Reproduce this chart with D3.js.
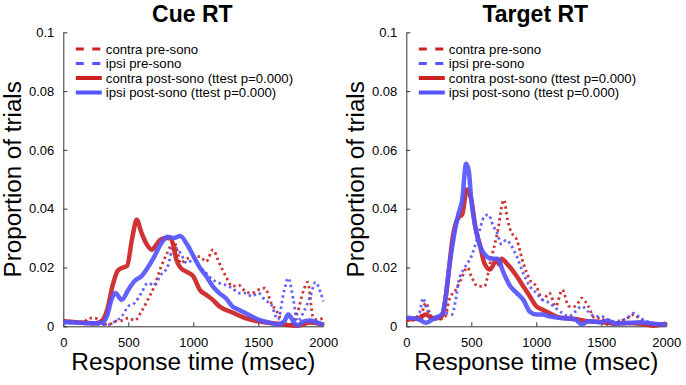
<!DOCTYPE html>
<html>
<head>
<meta charset="utf-8">
<script src="https://cdn.jsdelivr.net/npm/d3@7.9.0/dist/d3.min.js"></script>
<style>
  body { margin: 0; background: #fff; }
  svg { font-family: "Liberation Sans", Arial, Helvetica, sans-serif; }
</style>
</head>
<body>
<div id="chart"></div>
<script>
// Tick values / labels
const xTicks = [0, 500, 1000, 1500, 2000];
const yTicks = [0, 0.02, 0.04, 0.06, 0.08, 0.1];
const titles = ["Cue RT", "Target RT"];
const legendLabels = [
  "contra pre-sono",
  "ipsi pre-sono",
  "contra post-sono (ttest p=0.000)",
  "ipsi post-sono (ttest p=0.000)"
];

// Cue RT series: [msec, proportion]
const cueContraPre = [[0,0.002],[100,0.0015],[150,0.0012],[200,0.0028],[250,0.0027],[300,0.001],[350,0.0006],[400,0.0017],[450,0.002],[500,0.0028],[550,0.002],[600,0.005],[650,0.009],[700,0.0136],[750,0.02],[800,0.025],[850,0.0288],[880,0.025],[900,0.0215],[950,0.023],[1000,0.0237],[1050,0.0237],[1100,0.022],[1150,0.026],[1200,0.0215],[1250,0.017],[1300,0.0136],[1350,0.014],[1400,0.0119],[1450,0.0113],[1500,0.0124],[1550,0.013],[1600,0.0079],[1650,0.0045],[1700,0.0006],[1750,0.0006],[1800,0.0045],[1850,0.0124],[1880,0.015],[1920,0.0034],[1950,0.0023],[2000,0.0028]];
const cueIpsiPre = [[0,0.001],[100,0.0012],[200,0.0008],[300,0.0006],[350,0.0006],[400,0.0017],[450,0.0034],[500,0.0068],[550,0.008],[600,0.0113],[650,0.0147],[700,0.014],[750,0.0175],[800,0.02],[850,0.027],[900,0.025],[950,0.0215],[1000,0.0226],[1050,0.02],[1100,0.018],[1150,0.0158],[1200,0.0147],[1250,0.014],[1300,0.013],[1350,0.0113],[1400,0.0113],[1450,0.0102],[1500,0.0113],[1550,0.009],[1600,0.0073],[1650,0.0023],[1700,0.0124],[1730,0.0164],[1770,0.009],[1800,0.0017],[1850,0.005],[1900,0.0102],[1940,0.015],[1980,0.0113],[2000,0.0085]];
const cueContraPost = [[0,0.0017],[100,0.0014],[200,0.0011],[250,0.001],[300,0.002],[340,0.006],[380,0.014],[420,0.019],[460,0.02],[490,0.0205],[530,0.03],[565,0.0362],[600,0.032],[640,0.028],[680,0.026],[720,0.028],[750,0.0296],[800,0.03],[830,0.0298],[870,0.0226],[900,0.02],[950,0.0185],[1000,0.017],[1050,0.0124],[1100,0.0107],[1150,0.009],[1200,0.0068],[1300,0.0047],[1400,0.0028],[1500,0.0017],[1600,0.0011],[1700,0.0006],[1800,0.0002],[1900,0.0013],[2000,0.0005]];
const cueIpsiPost = [[0,0.0015],[100,0.0013],[200,0.001],[300,0.0012],[340,0.004],[370,0.009],[400,0.0113],[450,0.009],[500,0.0124],[550,0.0155],[600,0.017],[650,0.02],[700,0.0237],[750,0.028],[800,0.0305],[850,0.03],[900,0.0307],[950,0.028],[1000,0.024],[1050,0.02],[1100,0.017],[1150,0.0136],[1200,0.0113],[1250,0.0096],[1300,0.0068],[1350,0.0056],[1400,0.0045],[1500,0.0023],[1600,0.0011],[1650,0.0006],[1700,0.0017],[1730,0.004],[1780,0.001],[1800,0.0003],[1850,0.0017],[1900,0.002],[1950,0.0013],[2000,0.0006]];

// Target RT series: [msec, proportion]
const tgtContraPre = [[0,0.002],[100,0.0023],[150,0.008],[180,0.0045],[200,0.0028],[250,0.0023],[300,0.0034],[330,0.009],[380,0.0124],[420,0.0158],[470,0.02],[500,0.017],[550,0.0136],[600,0.0136],[650,0.0226],[700,0.0316],[750,0.043],[780,0.036],[800,0.0328],[850,0.0294],[900,0.0215],[950,0.0158],[1000,0.0136],[1050,0.009],[1100,0.0113],[1150,0.0068],[1200,0.0124],[1250,0.0068],[1300,0.0068],[1350,0.0096],[1400,0.0068],[1450,0.0028],[1500,0.0028],[1550,0.0006],[1600,0.0009],[1650,0.0017],[1700,0.0028],[1750,0.004],[1800,0.0023],[1900,0.0006],[2000,0.0009]];
const tgtIpsiPre = [[0,0.003],[50,0.0023],[100,0.0045],[130,0.0096],[150,0.0068],[200,0.0034],[250,0.0034],[300,0.0045],[350,0.004],[380,0.009],[400,0.0147],[450,0.02],[500,0.0237],[550,0.0305],[600,0.0373],[630,0.038],[670,0.034],[700,0.0316],[730,0.028],[770,0.0294],[800,0.028],[850,0.0237],[900,0.018],[950,0.0136],[1000,0.0113],[1050,0.009],[1100,0.008],[1150,0.0062],[1200,0.0045],[1250,0.0034],[1300,0.005],[1350,0.0068],[1400,0.005],[1450,0.0034],[1500,0.0034],[1550,0.0023],[1600,0.0017],[1700,0.0028],[1750,0.0045],[1800,0.0028],[1900,0.0011],[2000,0.0009]];
const tgtContraPost = [[0,0.0023],[100,0.0028],[150,0.004],[200,0.0028],[250,0.0028],[280,0.004],[300,0.009],[330,0.02],[350,0.028],[400,0.037],[430,0.038],[465,0.0465],[500,0.043],[530,0.034],[570,0.027],[600,0.0215],[644,0.0193],[695,0.0227],[715,0.021],[732,0.023],[770,0.0215],[800,0.02],[850,0.017],[900,0.0136],[950,0.0102],[1000,0.0068],[1050,0.0056],[1100,0.0045],[1150,0.0034],[1200,0.0028],[1300,0.0025],[1400,0.0017],[1500,0.0014],[1600,0.0009],[1700,0.0011],[1800,0.0009],[1900,0.0002],[2000,0.0009]];
const tgtIpsiPost = [[0,0.003],[100,0.0023],[150,0.0012],[200,0.0023],[250,0.0034],[280,0.0045],[300,0.009],[330,0.02],[370,0.0316],[400,0.038],[430,0.043],[460,0.0553],[480,0.053],[500,0.043],[530,0.034],[570,0.027],[620,0.0237],[650,0.023],[700,0.023],[750,0.018],[800,0.0136],[850,0.0113],[900,0.009],[950,0.005],[1000,0.004],[1050,0.004],[1100,0.0034],[1200,0.0028],[1300,0.0023],[1350,0.0006],[1400,0.0017],[1500,0.0014],[1550,0.002],[1600,0.0009],[1700,0.0011],[1800,0.0014],[1900,0.0009],[2000,0.0006]];

const panels = [
  [cueContraPre, cueIpsiPre, cueContraPost, cueIpsiPost],
  [tgtContraPre, tgtIpsiPre, tgtContraPost, tgtIpsiPost]
];

const red = "#cc2222";
const blue = "#5555ff";
const styles = [
  {color: red, width: 2.8, dash: "2.4,3.2", legendDash: "8,8.5"},
  {color: blue, width: 2.8, dash: "2.4,3.2", legendDash: "8,8.5"},
  {color: red, width: 4.5, dash: null, legendDash: null},
  {color: blue, width: 4.5, dash: null, legendDash: null}
];

const W = 686, H = 385;
const plotW = 260, plotTop = 32.3, plotBottom = 326.3;
const panelLeft = [63.3, 406.3];

const svg = d3.select("#chart").append("svg")
  .attr("width", W).attr("height", H);

const y = d3.scaleLinear().domain([0, 0.1]).range([plotBottom, plotTop]);
const fmtY = d => d === 0 ? "0" : (d === 0.1 ? "0.1" : d3.format(".2f")(d));

panelLeft.forEach((left, pi) => {
  const x = d3.scaleLinear().domain([0, 2000]).range([left, left + plotW]);
  const g = svg.append("g");

  // Axes (MATLAB style: inward ticks, no box)
  const xAxis = g.append("g")
    .attr("transform", `translate(0,${plotBottom})`)
    .call(d3.axisBottom(x).tickValues(xTicks).tickFormat(d3.format("d"))
      .tickSizeInner(-4).tickSizeOuter(0).tickPadding(11));
  const yAxis = g.append("g")
    .attr("transform", `translate(${left},0)`)
    .call(d3.axisLeft(y).tickValues(yTicks).tickFormat(fmtY)
      .tickSizeInner(-4).tickSizeOuter(0).tickPadding(9));
  [xAxis, yAxis].forEach(a => {
    a.select(".domain").attr("stroke", "#333").attr("stroke-width", 1);
    a.selectAll(".tick line").attr("stroke", "#333");
    a.selectAll(".tick text").attr("font-size", 13).attr("fill", "#000");
  });

  // Lines
  const line = d3.line()
    .x(d => x(d[0]))
    .y(d => y(d[1]))
    .curve(d3.curveMonotoneX);

  panels[pi].forEach((data, si) => {
    const s = styles[si];
    g.append("path")
      .datum(data)
      .attr("fill", "none")
      .attr("stroke", s.color)
      .attr("stroke-width", s.width)
      .attr("stroke-linejoin", "round")
      .attr("stroke-dasharray", s.dash)
      .attr("opacity", 0.92)
      .attr("d", line);
  });

  // Title
  g.append("text")
    .attr("x", left + 129)
    .attr("y", 22)
    .attr("text-anchor", "middle")
    .attr("font-size", 23)
    .attr("font-weight", "bold")
    .text(titles[pi]);

  // Axis labels
  g.append("text")
    .attr("x", left + 130)
    .attr("y", 370)
    .attr("text-anchor", "middle")
    .attr("font-size", 24.4)
    .text("Response time (msec)");
  g.append("text")
    .attr("transform", `translate(${left - 42},${(plotTop + plotBottom) / 2}) rotate(-90)`)
    .attr("text-anchor", "middle")
    .attr("font-size", 24.2)
    .text("Proportion of trials");

  // Legend
  const rows = [49, 63.5, 78, 92.5];
  legendLabels.forEach((lab, i) => {
    const s = styles[i];
    g.append("line")
      .attr("x1", left + 12.5).attr("x2", left + 38.5)
      .attr("y1", rows[i]).attr("y2", rows[i])
      .attr("stroke", s.color)
      .attr("stroke-width", s.dash ? 3 : 4)
      .attr("stroke-dasharray", s.legendDash);
    g.append("text")
      .attr("x", left + 42.5)
      .attr("y", rows[i] + 4.6)
      .attr("font-size", 13.2)
      .text(lab);
  });
});
</script>
</body>
</html>
